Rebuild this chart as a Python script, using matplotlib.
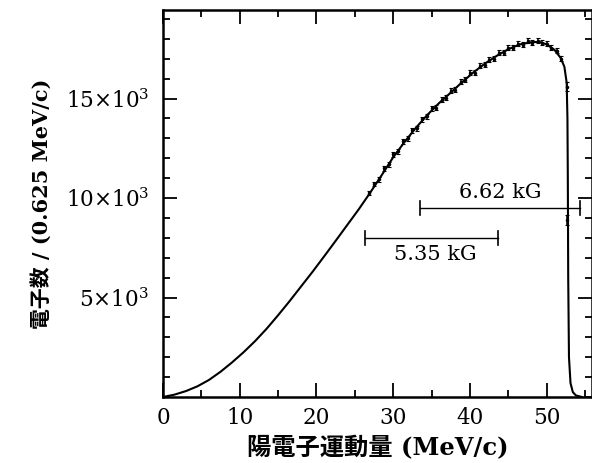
import matplotlib
matplotlib.use('Agg')
import matplotlib.pyplot as plt
from matplotlib.ticker import MultipleLocator, FixedLocator, FixedFormatter

# smooth fitted spectrum (MeV/c, counts)
curve_x = [0, 1.5, 3, 4.5, 6, 7.5, 9, 10.5, 12, 13.5, 15, 16.5, 18, 19.5, 21,
           22.5, 24, 25.5, 27, 28.5, 30, 31.5, 33, 34.5, 36, 37.5, 39, 40.5,
           42, 43.5, 45, 46.5, 48, 49, 50, 51, 51.8, 52.3, 52.6, 52.7, 52.75,
           52.8, 52.9, 53.1, 53.4, 53.8, 54.6]
curve_y = [0, 120, 300, 540, 860, 1270, 1740, 2250, 2810, 3430, 4110, 4820,
           5560, 6300, 7070, 7850, 8640, 9430, 10270, 11150, 12050, 12830,
           13550, 14200, 14780, 15300, 15830, 16330, 16770, 17150, 17480,
           17720, 17830, 17850, 17720, 17450, 17050, 16600, 15800, 14000,
           11000, 6000, 2000, 700, 250, 80, 0]

# measured points with error bars
data_x = [26.9, 27.5, 28.1, 28.8, 29.4, 30.0, 30.6, 31.3, 31.9, 32.5, 33.1,
          33.8, 34.4, 35.0, 35.6, 36.3, 36.9, 37.5, 38.1, 38.8, 39.4, 40.0,
          40.6, 41.3, 41.9, 42.5, 43.1, 43.8, 44.4, 45.0, 45.6, 46.3, 46.9,
          47.5, 48.1, 48.8, 49.4, 50.0, 50.6, 51.3, 51.9, 52.6, 52.7]
data_y = [10250, 10700, 10950, 11500, 11700, 12200, 12350, 12850, 13000,
          13400, 13500, 13950, 14100, 14500, 14550, 14950, 15050, 15400,
          15450, 15850, 15950, 16300, 16300, 16650, 16700, 16950, 17000,
          17300, 17300, 17550, 17550, 17750, 17700, 17900, 17800, 17900,
          17800, 17750, 17550, 17400, 17000, 15600, 8900]
data_err = [120, 120, 120, 130, 130, 130, 130, 130, 130, 130, 130, 130, 130,
            130, 130, 130, 130, 130, 130, 130, 130, 130, 130, 130, 130, 130,
            130, 130, 130, 130, 130, 130, 130, 130, 130, 130, 130, 130, 130,
            130, 130, 220, 250]

# field settings: momentum resolution bars
field_labels = ['6.62 kG', '5.35 kG']
bar_x0 = [33.5, 26.3]
bar_x1 = [54.4, 43.7]
bar_y = [9500, 8000]
label_x = [44.0, 35.5]
label_y = [10300, 7150]

ytick_vals = [5000, 10000, 15000]
ytick_labels = [r'5$\times$10$^3$', r'10$\times$10$^3$', r'15$\times$10$^3$']

serif = ['DejaVu Serif']
jp = ['DejaVu Serif', 'Noto Sans CJK JP']
plt.rcParams['mathtext.fontset'] = 'dejavuserif'

fig = plt.figure(figsize=(5.92, 4.63), dpi=100)
ax = fig.add_axes([0.2753, 0.1425, 0.7247, 0.8359])

ax.plot(curve_x, curve_y, color='black', lw=1.5)
ax.errorbar(data_x, data_y, yerr=data_err, fmt='o', ms=1.5, color='black',
            ecolor='black', elinewidth=1.1, capsize=1.2, capthick=0.8)

for lab, x0, x1, y, lx, ly in zip(field_labels, bar_x0, bar_x1, bar_y,
                                  label_x, label_y):
    ax.plot([x0, x1], [y, y], color='black', lw=1.0)
    ax.plot([x0, x0], [y - 350, y + 350], color='black', lw=1.2)
    ax.plot([x1, x1], [y - 350, y + 350], color='black', lw=1.2)
    ax.text(lx, ly, lab, ha='center', va='center', fontsize=15,
            family=serif)

ax.set_xlim(0, 55.9)
ax.set_ylim(0, 19450)

ax.xaxis.set_major_locator(MultipleLocator(10))
ax.xaxis.set_minor_locator(MultipleLocator(5))
ax.yaxis.set_major_locator(FixedLocator(ytick_vals))
ax.yaxis.set_major_formatter(FixedFormatter(ytick_labels))
ax.yaxis.set_minor_locator(MultipleLocator(1000))

ax.tick_params(which='both', direction='in', top=True, right=True,
               width=1.3, labelsize=15.5)
ax.tick_params(which='major', length=10, pad=7)
ax.tick_params(axis='y', which='major', pad=10)
ax.tick_params(which='minor', length=5)
for lbl in ax.get_xticklabels() + ax.get_yticklabels():
    lbl.set_family(serif)

for s in ax.spines.values():
    s.set_linewidth(1.8)

ax.set_xlabel('陽電子運動量 (MeV/c)', fontsize=17.5, family=jp,
              fontweight='bold', labelpad=5)
ax.set_ylabel('電子数 / (0.625 MeV/c)', fontsize=15, family=jp,
              fontweight='bold', labelpad=10)

fig.savefig('out.png', dpi=100)
